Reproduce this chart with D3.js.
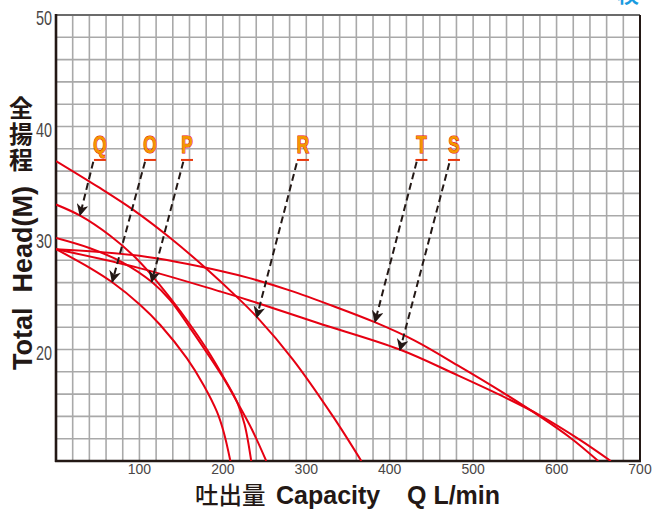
<!DOCTYPE html>
<html><head><meta charset="utf-8">
<script src="https://cdn.jsdelivr.net/npm/d3@7"></script>
<style>
html,body{margin:0;padding:0;background:#fff;}
svg{display:block;}
</style></head>
<body>
<script>
// ---- data ----
const flowTicks = [100, 200, 300, 400, 500, 600, 700];
const headTicks = [20, 30, 40, 50];
const pumpNames = ["Q", "O", "P", "R", "T", "S"];
// [flow L/min, head m]
const curveQ = [[0,33.0],[29,32.0],[65,30.2],[93,28.4],[113,26.8],[137,24.6],[161,22.2],[181,20.0],[201,17.5],[217,15.3],[226,13.3],[234,10.0]];
const curveO = [[0,29.0],[41,27.3],[67,26.05],[101,24.0],[125,22.2],[157,19.2],[177,16.8],[193,14.4],[201,12.6],[209,10.0]];
const curveP = [[0,30.0],[40,29.1],[80,27.8],[115,26.05],[137,24.4],[161,21.9],[181,19.7],[201,17.4],[217,15.3],[235,12.8],[252,10.0]];
const curveR = [[0,36.9],[50,34.6],[93,32.5],[137,30.0],[181,27.2],[217,24.7],[241,22.9],[284,19.1],[332,14.0],[366,10.0]];
const curveT = [[0,29.0],[100,28.4],[200,27.0],[232,26.4],[280,25.3],[332,23.9],[382,22.45],[430,20.8],[481,18.6],[530,16.4],[580,14.0],[618,12.0],[650,10.0]];
const curveS = [[0,29.0],[100,27.3],[197,25.2],[232,24.4],[313,22.4],[412,20.0],[481,17.7],[541,15.6],[580,14.1],[628,11.9],[665,10.0]];
const labelFlow = [52.7, 112.7, 157, 296, 438, 477];
const arrowTail = [[44.7,36.84],[106.7,36.84],[152.6,36.84],[288.5,36.7],[432.3,36.84],[471.4,36.7]];
const arrowTip  = [[28.8,32.06],[67.5,26.08],[114.7,26.08],[240.6,22.89],[382.4,22.49],[412.3,19.96]];

const W = 654, H = 513;
const svg = d3.select("body").append("svg").attr("width", W).attr("height", H);

const x = d3.scaleLinear().domain([0, 700]).range([56, 640]);
const y = d3.scaleLinear().domain([10, 50]).range([461, 15]);

// grid
const grid = svg.append("g").attr("stroke", "#a9a9a9").attr("stroke-width", 1.6);
grid.selectAll("line.v").data(d3.range(20, 700, 20)).join("line")
  .attr("x1", d => x(d)).attr("x2", d => x(d)).attr("y1", y(50)).attr("y2", y(10));
grid.selectAll("line.h").data(d3.range(12, 50, 2)).join("line")
  .attr("y1", d => y(d)).attr("y2", d => y(d)).attr("x1", x(0)).attr("x2", x(700));

// frame
svg.append("line").attr("x1", x(0)).attr("x2", x(700)).attr("y1", y(50)).attr("y2", y(50)).attr("stroke", "#6b6b6b").attr("stroke-width", 2);
svg.append("line").attr("x1", x(700)).attr("x2", x(700)).attr("y1", y(50)).attr("y2", y(10)).attr("stroke", "#231815").attr("stroke-width", 2);
svg.append("line").attr("x1", x(0)).attr("x2", x(0)).attr("y1", y(50)-1).attr("y2", y(10)+1).attr("stroke", "#231815").attr("stroke-width", 2.6);
svg.append("line").attr("x1", x(0)-1).attr("x2", x(700)+1).attr("y1", y(10)).attr("y2", y(10)).attr("stroke", "#231815").attr("stroke-width", 2.4);

// tick labels
svg.append("g").selectAll("text").data(flowTicks).join("text")
  .attr("x", d => x(d)).attr("y", 474)
  .attr("text-anchor", "middle")
  .attr("font-family", "'Liberation Sans', Arial, sans-serif")
  .attr("font-size", 14).attr("fill", "#4a4646")
  .text(d => d);
svg.append("g").selectAll("text").data(headTicks).join("text")
  .attr("transform", d => `translate(52,${y(d) + 10}) scale(0.72,1)`)
  .attr("text-anchor", "end")
  .attr("font-family", "'Liberation Sans', Arial, sans-serif")
  .attr("font-size", 20).attr("fill", "#4a4646")
  .text(d => d);

// curves
svg.append("clipPath").attr("id", "plotclip").append("rect")
  .attr("x", x(0)).attr("y", y(50)).attr("width", x(700) - x(0)).attr("height", y(10) - y(50));
const line = d3.line().x(d => x(d[0])).y(d => y(d[1])).curve(d3.curveCatmullRom.alpha(0.5));
svg.append("g").attr("clip-path", "url(#plotclip)")
  .selectAll("path").data([curveQ, curveO, curveP, curveR, curveT, curveS]).join("path")
  .attr("d", line).attr("fill", "none").attr("stroke", "#e60012").attr("stroke-width", 2);

// arrows
const defs = svg.append("defs");
defs.append("marker").attr("id", "ah").attr("viewBox", "0 0 10 10")
  .attr("refX", 9).attr("refY", 5).attr("markerWidth", 6).attr("markerHeight", 6)
  .attr("markerUnits", "strokeWidth").attr("orient", "auto")
  .append("path").attr("d", "M0,0 L10,5 L0,10 L3,5 Z").attr("fill", "#231815");
svg.append("g").selectAll("line").data(pumpNames).join("line")
  .attr("x1", (d, i) => x(arrowTail[i][0])).attr("y1", (d, i) => y(arrowTail[i][1]))
  .attr("x2", (d, i) => x(arrowTip[i][0])).attr("y2", (d, i) => y(arrowTip[i][1]))
  .attr("stroke", "#231815").attr("stroke-width", 2).attr("stroke-dasharray", "7,4")
  .attr("marker-end", "url(#ah)");

// labels
const lab = svg.append("g");
lab.selectAll("text").data(pumpNames).join("text")
  .attr("transform", (d, i) => `translate(${x(labelFlow[i])},${y(37.62)}) scale(0.72,1)`)
  .attr("text-anchor", "middle")
  .attr("font-family", "'Liberation Sans', Arial, sans-serif")
  .attr("font-weight", "bold").attr("font-size", 24)
  .attr("fill", "#f39800").attr("stroke", "#e60012").attr("stroke-width", 1.1)
  .attr("paint-order", "stroke")
  .text(d => d);
lab.selectAll("line").data(pumpNames).join("line")
  .attr("x1", (d, i) => x(labelFlow[i]) - 6).attr("x2", (d, i) => x(labelFlow[i]) + 6)
  .attr("y1", y(37.0)).attr("y2", y(37.0))
  .attr("stroke", "#e8380d").attr("stroke-width", 2);

// axis titles
const xt = svg.append("g");
xt.append("text").attr("x", 195).attr("y", 504)
  .attr("font-family", "'Noto Sans CJK JP', sans-serif").attr("font-weight", 500)
  .attr("font-size", 23.5).attr("fill", "#231815").text("吐出量");
xt.append("text").attr("x", 276).attr("y", 504)
  .attr("font-family", "'Liberation Sans', Arial, sans-serif").attr("font-weight", "bold")
  .attr("font-size", 25).attr("fill", "#231815").text("Capacity");
xt.append("text").attr("x", 407).attr("y", 504)
  .attr("font-family", "'Liberation Sans', Arial, sans-serif").attr("font-weight", "bold")
  .attr("font-size", 25).attr("fill", "#231815").text("Q L/min");

svg.append("text").attr("transform", "translate(32,370) rotate(-90)")
  .attr("font-family", "'Liberation Sans', Arial, sans-serif").attr("font-weight", "bold")
  .attr("font-size", 27).attr("fill", "#231815")
  .style("white-space", "pre").text("Total  Head(M)");
svg.append("text")
  .attr("x", 21).attr("y", 96)
  .style("writing-mode", "vertical-rl")
  .attr("font-family", "'Noto Sans CJK JP', sans-serif").attr("font-weight", 700)
  .attr("font-size", 24).attr("letter-spacing", 2).attr("fill", "#231815")
  .text("全揚程");

// cut-off corner mark
svg.append("text").attr("x", 617).attr("y", 2)
  .attr("font-family", "'Noto Sans CJK JP', sans-serif").attr("font-weight", 700)
  .attr("font-size", 22).attr("fill", "#1a9be0").text("検");
</script>
</body></html>
